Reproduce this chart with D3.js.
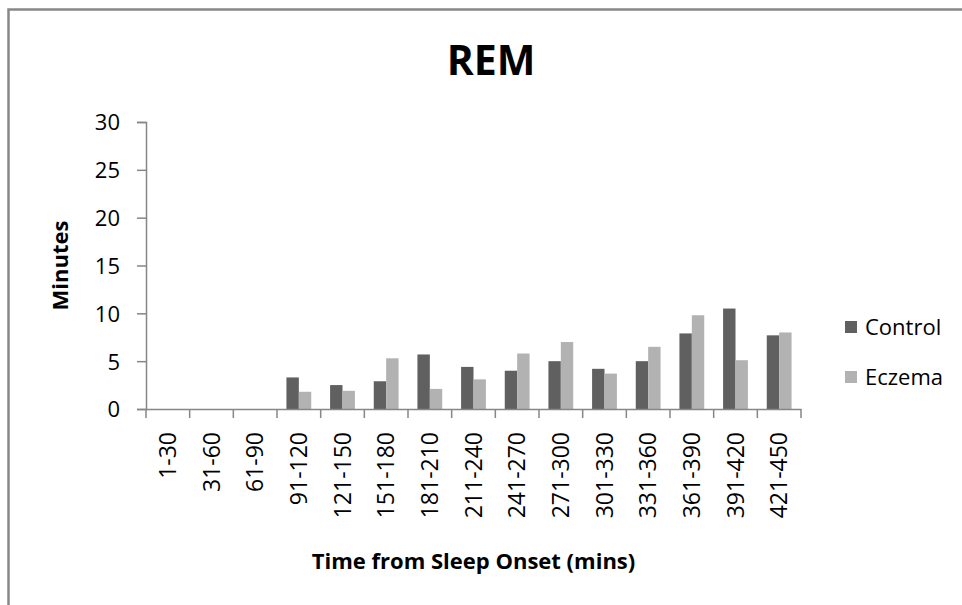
<!DOCTYPE html>
<html>
<head>
<meta charset="utf-8">
<script src="https://cdn.jsdelivr.net/npm/d3@7"></script>
<style>
  body { margin: 0; background: #fff; }
  text { font-family: "Open Sans", sans-serif; fill: #000; }
</style>
</head>
<body>
<div id="container"></div>
<script>
/* DATA */
const categories = ["1-30", "31-60", "61-90", "91-120", "121-150", "151-180", "181-210",
  "211-240", "241-270", "271-300", "301-330", "331-360", "361-390", "391-420", "421-450"]
const control = [0, 0, 0, 3.3, 2.5, 2.9, 5.7, 4.4, 4.0, 5.0, 4.2, 5.0, 7.9, 10.5, 7.7]
const eczema = [0, 0, 0, 1.8, 1.9, 5.3, 2.1, 3.1, 5.8, 7.0, 3.7, 6.5, 9.8, 5.1, 8.0]
const seriesNames = ["Control", "Eczema"]
const yTicks = [0, 5, 10, 15, 20, 25, 30]

/* CONSTANTS */
const width = 962,
  height = 605,
  margin = { top: 122, bottom: 196, left: 146, right: 161 }

const colors = d3.scaleOrdinal()
  .domain(seriesNames)
  .range(["#606060", "#b2b2b2"])

const rows = categories.map((c, i) => ({ cat: c, Control: control[i], Eczema: eczema[i] }))

/* SCALES */
const xScale = d3.scaleBand()
  .domain(categories)
  .range([margin.left, width - margin.right])

const inner = d3.scaleBand()
  .domain(seriesNames)
  .range([0, xScale.bandwidth()])
  .paddingInner(0)
  .paddingOuter(0.76)

const yScale = d3.scaleLinear()
  .domain([0, 30])
  .range([height - margin.bottom, margin.top])

/* SVG */
const svg = d3.select("#container")
  .append("svg")
  .attr("width", width)
  .attr("height", height)

// outer chart frame
svg.append("rect")
  .attr("x", 8.5)
  .attr("y", 9.5)
  .attr("width", 1000)
  .attr("height", 700)
  .attr("fill", "none")
  .attr("stroke", "#888")
  .attr("stroke-width", 2.5)

// title
svg.append("text")
  .attr("x", 491)
  .attr("y", 75)
  .attr("text-anchor", "middle")
  .style("font-weight", "bold")
  .style("font-size", "41px")
  .text("REM")

// bars
svg.append("g")
  .selectAll("g")
  .data(rows)
  .join("g")
  .attr("transform", d => `translate(${xScale(d.cat)},0)`)
  .selectAll("rect")
  .data(d => seriesNames.map(k => ({ key: k, value: d[k] })))
  .join("rect")
  .attr("x", d => inner(d.key))
  .attr("y", d => yScale(d.value))
  .attr("width", inner.bandwidth())
  .attr("height", d => yScale(0) - yScale(d.value))
  .attr("fill", d => colors(d.key))

// y axis
const yAxis = svg.append("g")
  .attr("transform", `translate(${margin.left},0)`)
  .call(d3.axisLeft(yScale).tickValues(yTicks).tickSize(9).tickPadding(17))
yAxis.selectAll("text").style("font-size", "22px").attr("dy", "0.36em")

// x axis
const xAxis = svg.append("g")
  .attr("transform", `translate(0,${yScale(0)})`)
  .call(d3.axisBottom(xScale).tickSize(0).tickSizeOuter(0))
xAxis.selectAll(".tick line").remove()
xAxis.selectAll("text")
  .style("font-size", "23px")
  .attr("text-anchor", "end")
  .attr("transform", "rotate(-90)")
  .attr("x", -23)
  .attr("y", 0)
  .attr("dy", "0.36em")

// category boundary ticks
xAxis.selectAll(".bound")
  .data(categories.concat(["end"]))
  .join("line")
  .attr("class", "bound")
  .attr("x1", (d, i) => margin.left + i * xScale.step())
  .attr("x2", (d, i) => margin.left + i * xScale.step())
  .attr("y1", 0)
  .attr("y2", 9)

svg.selectAll(".domain, .tick line, .bound")
  .attr("stroke", "#868686")
  .attr("stroke-width", 1.5)

// axis titles
svg.append("text")
  .attr("transform", `translate(68,${(yScale(0) + yScale(30)) / 2}) rotate(-90)`)
  .attr("text-anchor", "middle")
  .style("font-weight", "bold")
  .style("font-size", "22px")
  .text("Minutes")

svg.append("text")
  .attr("x", (margin.left + width - margin.right) / 2)
  .attr("y", 569)
  .attr("text-anchor", "middle")
  .style("font-weight", "bold")
  .style("font-size", "22px")
  .text("Time from Sleep Onset (mins)")

// legend
const legend = svg.append("g")
  .selectAll("g")
  .data(seriesNames)
  .join("g")
  .attr("transform", (d, i) => `translate(845,${321 + i * 50})`)

legend.append("rect")
  .attr("width", 12)
  .attr("height", 12)
  .attr("fill", d => colors(d))

legend.append("text")
  .attr("x", 20)
  .attr("y", 6)
  .attr("dy", "0.36em")
  .style("font-size", "22px")
  .text(d => d)
</script>
</body>
</html>
